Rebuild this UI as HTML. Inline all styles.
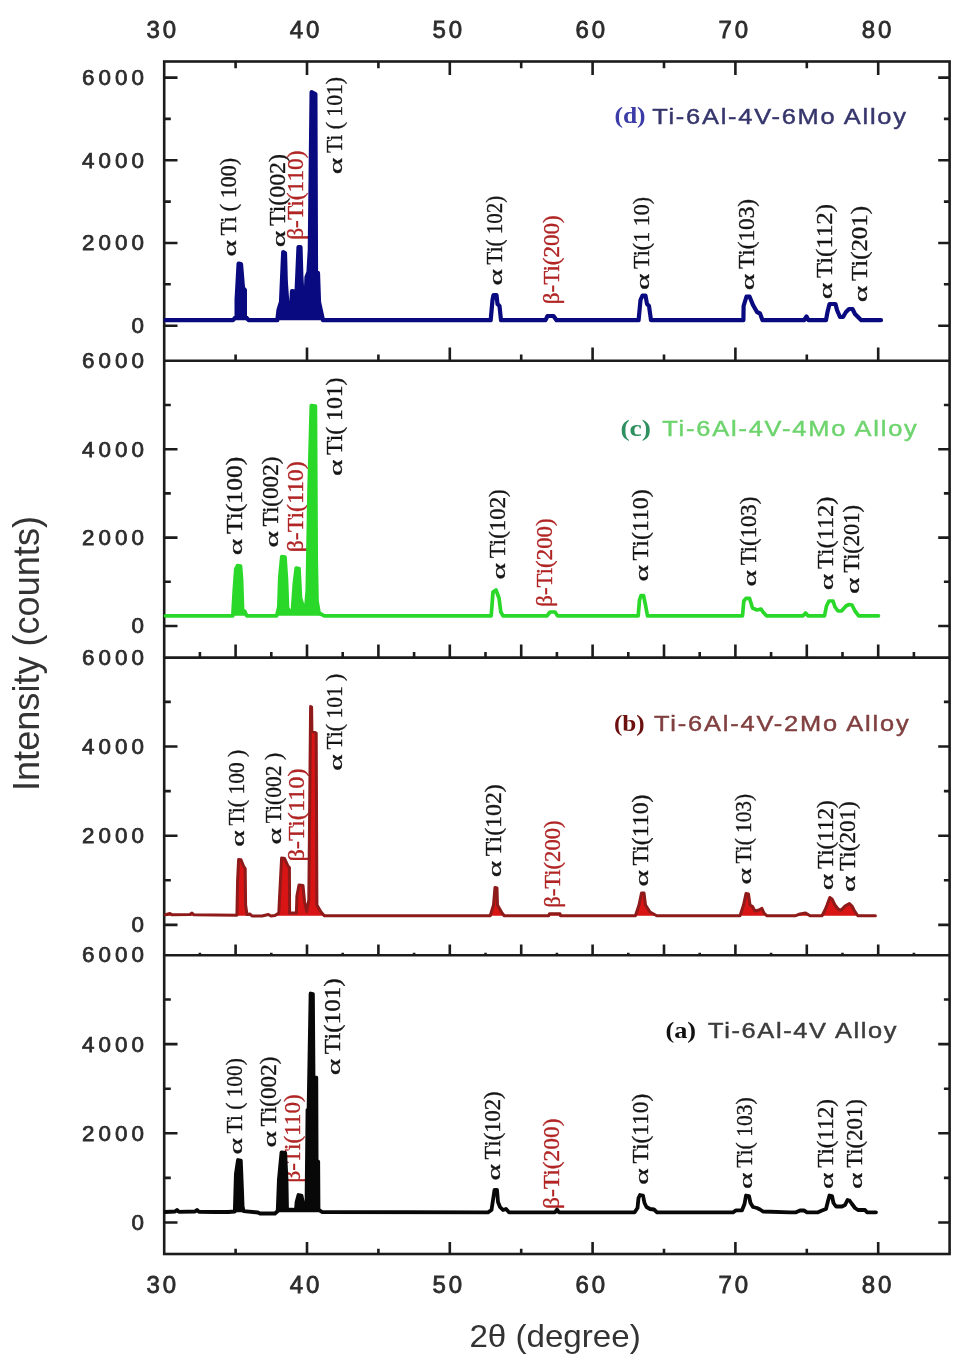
<!DOCTYPE html><html><head><meta charset="utf-8"><style>html,body{margin:0;padding:0;background:#fff;}svg{display:block;filter:blur(0.45px)}</style></head><body>
<svg width="967" height="1369" viewBox="0 0 967 1369">
<rect width="967" height="1369" fill="#fff"/>
<rect x="164.2" y="61.5" width="785.4" height="1192.5" fill="none" stroke="#1c1c1c" stroke-width="2.6"/>
<line x1="164.2" y1="360.7" x2="949.6" y2="360.7" stroke="#1c1c1c" stroke-width="2.6"/>
<line x1="164.2" y1="657.6" x2="949.6" y2="657.6" stroke="#1c1c1c" stroke-width="2.6"/>
<line x1="164.2" y1="955.3" x2="949.6" y2="955.3" stroke="#1c1c1c" stroke-width="2.6"/>
<path d="M235.6 61.5V68.2M307.0 61.5V75.0M378.4 61.5V68.2M449.8 61.5V75.0M521.2 61.5V68.2M592.6 61.5V75.0M664.0 61.5V68.2M735.4 61.5V75.0M806.8 61.5V68.2M878.2 61.5V75.0M235.6 360.7V354.5M307.0 360.7V347.5M378.4 360.7V354.5M449.8 360.7V347.5M521.2 360.7V354.5M592.6 360.7V347.5M664.0 360.7V354.5M735.4 360.7V347.5M806.8 360.7V354.5M878.2 360.7V347.5M199.9 657.6V652.0M235.6 657.6V644.6M271.3 657.6V652.0M307.0 657.6V644.6M342.7 657.6V652.0M378.4 657.6V644.6M414.1 657.6V652.0M449.8 657.6V644.6M485.5 657.6V652.0M521.2 657.6V644.6M556.9 657.6V652.0M592.6 657.6V644.6M628.3 657.6V652.0M664.0 657.6V644.6M699.7 657.6V652.0M735.4 657.6V644.6M771.1 657.6V652.0M806.8 657.6V644.6M842.5 657.6V652.0M878.2 657.6V644.6M913.9 657.6V652.0M199.9 955.3V952.8M235.6 955.3V944.6M271.3 955.3V952.8M307.0 955.3V944.6M342.7 955.3V952.8M378.4 955.3V944.6M414.1 955.3V952.8M449.8 955.3V944.6M485.5 955.3V952.8M521.2 955.3V944.6M556.9 955.3V952.8M592.6 955.3V944.6M628.3 955.3V952.8M664.0 955.3V944.6M699.7 955.3V952.8M735.4 955.3V944.6M771.1 955.3V952.8M806.8 955.3V944.6M842.5 955.3V952.8M878.2 955.3V944.6M913.9 955.3V952.8M235.6 1254.0V1248.7M307.0 1254.0V1242.0M378.4 1254.0V1248.7M449.8 1254.0V1242.0M521.2 1254.0V1248.7M592.6 1254.0V1242.0M664.0 1254.0V1248.7M735.4 1254.0V1242.0M806.8 1254.0V1248.7M878.2 1254.0V1242.0M164.2 325.7H177.5M949.6 325.7H938.2M164.2 284.3H170.8M949.6 284.3H943.9M164.2 243.0H177.5M949.6 243.0H938.2M164.2 201.6H170.8M949.6 201.6H943.9M164.2 160.3H177.5M949.6 160.3H938.2M164.2 118.9H170.8M949.6 118.9H943.9M164.2 77.6H177.5M949.6 77.6H938.2M164.2 626.0H177.5M949.6 626.0H938.2M164.2 581.8H170.8M949.6 581.8H943.9M164.2 537.6H177.5M949.6 537.6H938.2M164.2 493.4H170.8M949.6 493.4H943.9M164.2 449.2H177.5M949.6 449.2H938.2M164.2 405.0H170.8M949.6 405.0H943.9M164.2 924.9H177.5M949.6 924.9H938.2M164.2 880.3H170.8M949.6 880.3H943.9M164.2 835.7H177.5M949.6 835.7H938.2M164.2 791.1H170.8M949.6 791.1H943.9M164.2 746.5H177.5M949.6 746.5H938.2M164.2 701.9H170.8M949.6 701.9H943.9M164.2 1222.5H177.5M949.6 1222.5H938.2M164.2 1177.9H170.8M949.6 1177.9H943.9M164.2 1133.3H177.5M949.6 1133.3H938.2M164.2 1088.7H170.8M949.6 1088.7H943.9M164.2 1044.1H177.5M949.6 1044.1H938.2M164.2 999.5H170.8M949.6 999.5H943.9" stroke="#1c1c1c" stroke-width="2.6" fill="none"/>
<text x="146.41" y="38.00" font-family="Liberation Sans, sans-serif" font-size="24.00" letter-spacing="2.90" fill="#2c2c2c" stroke="#2c2c2c" stroke-width="0.80">30</text>
<text x="146.41" y="1293.20" font-family="Liberation Sans, sans-serif" font-size="24.00" letter-spacing="2.90" fill="#2c2c2c" stroke="#2c2c2c" stroke-width="0.80">30</text>
<text x="289.68" y="38.00" font-family="Liberation Sans, sans-serif" font-size="24.00" letter-spacing="2.90" fill="#2c2c2c" stroke="#2c2c2c" stroke-width="0.80">40</text>
<text x="289.68" y="1293.20" font-family="Liberation Sans, sans-serif" font-size="24.00" letter-spacing="2.90" fill="#2c2c2c" stroke="#2c2c2c" stroke-width="0.80">40</text>
<text x="432.55" y="38.00" font-family="Liberation Sans, sans-serif" font-size="24.00" letter-spacing="2.90" fill="#2c2c2c" stroke="#2c2c2c" stroke-width="0.80">50</text>
<text x="432.55" y="1293.20" font-family="Liberation Sans, sans-serif" font-size="24.00" letter-spacing="2.90" fill="#2c2c2c" stroke="#2c2c2c" stroke-width="0.80">50</text>
<text x="575.50" y="38.00" font-family="Liberation Sans, sans-serif" font-size="24.00" letter-spacing="2.90" fill="#2c2c2c" stroke="#2c2c2c" stroke-width="0.80">60</text>
<text x="575.50" y="1293.20" font-family="Liberation Sans, sans-serif" font-size="24.00" letter-spacing="2.90" fill="#2c2c2c" stroke="#2c2c2c" stroke-width="0.80">60</text>
<text x="718.57" y="38.00" font-family="Liberation Sans, sans-serif" font-size="24.00" letter-spacing="2.90" fill="#2c2c2c" stroke="#2c2c2c" stroke-width="0.80">70</text>
<text x="718.57" y="1293.20" font-family="Liberation Sans, sans-serif" font-size="24.00" letter-spacing="2.90" fill="#2c2c2c" stroke="#2c2c2c" stroke-width="0.80">70</text>
<text x="861.75" y="38.00" font-family="Liberation Sans, sans-serif" font-size="24.00" letter-spacing="2.90" fill="#2c2c2c" stroke="#2c2c2c" stroke-width="0.80">80</text>
<text x="861.75" y="1293.20" font-family="Liberation Sans, sans-serif" font-size="24.00" letter-spacing="2.90" fill="#2c2c2c" stroke="#2c2c2c" stroke-width="0.80">80</text>
<text x="131.42" y="333.14" font-family="Liberation Sans, sans-serif" font-size="22.40" letter-spacing="4.00" fill="#2c2c2c" stroke="#2c2c2c" stroke-width="0.75">0</text>
<text x="82.04" y="250.44" font-family="Liberation Sans, sans-serif" font-size="22.40" letter-spacing="4.00" fill="#2c2c2c" stroke="#2c2c2c" stroke-width="0.75">2000</text>
<text x="82.04" y="167.74" font-family="Liberation Sans, sans-serif" font-size="22.40" letter-spacing="4.00" fill="#2c2c2c" stroke="#2c2c2c" stroke-width="0.75">4000</text>
<text x="82.04" y="85.04" font-family="Liberation Sans, sans-serif" font-size="22.40" letter-spacing="4.00" fill="#2c2c2c" stroke="#2c2c2c" stroke-width="0.75">6000</text>
<text x="131.42" y="633.44" font-family="Liberation Sans, sans-serif" font-size="22.40" letter-spacing="4.00" fill="#2c2c2c" stroke="#2c2c2c" stroke-width="0.75">0</text>
<text x="82.04" y="545.04" font-family="Liberation Sans, sans-serif" font-size="22.40" letter-spacing="4.00" fill="#2c2c2c" stroke="#2c2c2c" stroke-width="0.75">2000</text>
<text x="82.04" y="456.64" font-family="Liberation Sans, sans-serif" font-size="22.40" letter-spacing="4.00" fill="#2c2c2c" stroke="#2c2c2c" stroke-width="0.75">4000</text>
<text x="82.04" y="368.24" font-family="Liberation Sans, sans-serif" font-size="22.40" letter-spacing="4.00" fill="#2c2c2c" stroke="#2c2c2c" stroke-width="0.75">6000</text>
<text x="131.42" y="932.34" font-family="Liberation Sans, sans-serif" font-size="22.40" letter-spacing="4.00" fill="#2c2c2c" stroke="#2c2c2c" stroke-width="0.75">0</text>
<text x="82.04" y="843.14" font-family="Liberation Sans, sans-serif" font-size="22.40" letter-spacing="4.00" fill="#2c2c2c" stroke="#2c2c2c" stroke-width="0.75">2000</text>
<text x="82.04" y="753.94" font-family="Liberation Sans, sans-serif" font-size="22.40" letter-spacing="4.00" fill="#2c2c2c" stroke="#2c2c2c" stroke-width="0.75">4000</text>
<text x="82.04" y="664.74" font-family="Liberation Sans, sans-serif" font-size="22.40" letter-spacing="4.00" fill="#2c2c2c" stroke="#2c2c2c" stroke-width="0.75">6000</text>
<text x="131.42" y="1229.94" font-family="Liberation Sans, sans-serif" font-size="22.40" letter-spacing="4.00" fill="#2c2c2c" stroke="#2c2c2c" stroke-width="0.75">0</text>
<text x="82.04" y="1140.74" font-family="Liberation Sans, sans-serif" font-size="22.40" letter-spacing="4.00" fill="#2c2c2c" stroke="#2c2c2c" stroke-width="0.75">2000</text>
<text x="82.04" y="1051.54" font-family="Liberation Sans, sans-serif" font-size="22.40" letter-spacing="4.00" fill="#2c2c2c" stroke="#2c2c2c" stroke-width="0.75">4000</text>
<text x="82.04" y="962.34" font-family="Liberation Sans, sans-serif" font-size="22.40" letter-spacing="4.00" fill="#2c2c2c" stroke="#2c2c2c" stroke-width="0.75">6000</text>
<text x="0" y="0" transform="translate(236.0,256.6) rotate(-90) scale(1,0.905)" font-family="Liberation Serif, serif" font-size="20.5" fill="#151515" stroke="#151515" stroke-width="0.3" textLength="16.5" lengthAdjust="spacingAndGlyphs">α</text><text x="0" y="0" transform="translate(236.0,235.5) rotate(-90) scale(1,1.160)" font-family="Liberation Serif, serif" font-size="20.5" fill="#151515" stroke="#151515" stroke-width="0.3" textLength="77.7" lengthAdjust="spacingAndGlyphs">Ti ( 100)</text>
<text x="0" y="0" transform="translate(284.8,247.2) rotate(-90) scale(1,0.905)" font-family="Liberation Serif, serif" font-size="20.5" fill="#151515" stroke="#151515" stroke-width="0.3" textLength="16.5" lengthAdjust="spacingAndGlyphs">α</text><text x="0" y="0" transform="translate(284.8,226.1) rotate(-90) scale(1,1.160)" font-family="Liberation Serif, serif" font-size="20.5" fill="#151515" stroke="#151515" stroke-width="0.3" textLength="72.1" lengthAdjust="spacingAndGlyphs">Ti(002)</text>
<text x="0" y="0" transform="translate(302.6,239.8) rotate(-90) scale(1,1.160)" font-family="Liberation Serif, serif" font-size="20.5" fill="#b02424" stroke="#b02424" stroke-width="0.3" textLength="89.4" lengthAdjust="spacingAndGlyphs">β-Ti(110)</text>
<text x="0" y="0" transform="translate(341.8,174.2) rotate(-90) scale(1,0.905)" font-family="Liberation Serif, serif" font-size="20.5" fill="#151515" stroke="#151515" stroke-width="0.3" textLength="16.5" lengthAdjust="spacingAndGlyphs">α</text><text x="0" y="0" transform="translate(341.8,153.1) rotate(-90) scale(1,1.160)" font-family="Liberation Serif, serif" font-size="20.5" fill="#151515" stroke="#151515" stroke-width="0.3" textLength="76.1" lengthAdjust="spacingAndGlyphs">Ti ( 101)</text>
<text x="0" y="0" transform="translate(502.3,285.5) rotate(-90) scale(1,0.905)" font-family="Liberation Serif, serif" font-size="20.5" fill="#151515" stroke="#151515" stroke-width="0.3" textLength="16.5" lengthAdjust="spacingAndGlyphs">α</text><text x="0" y="0" transform="translate(502.3,264.4) rotate(-90) scale(1,1.160)" font-family="Liberation Serif, serif" font-size="20.5" fill="#151515" stroke="#151515" stroke-width="0.3" textLength="68.6" lengthAdjust="spacingAndGlyphs">Ti( 102)</text>
<text x="0" y="0" transform="translate(558.7,304.2) rotate(-90) scale(1,1.160)" font-family="Liberation Serif, serif" font-size="20.5" fill="#b02424" stroke="#b02424" stroke-width="0.3" textLength="89.0" lengthAdjust="spacingAndGlyphs">β-Ti(200)</text>
<text x="0" y="0" transform="translate(648.6,290.0) rotate(-90) scale(1,0.905)" font-family="Liberation Serif, serif" font-size="20.5" fill="#151515" stroke="#151515" stroke-width="0.3" textLength="16.5" lengthAdjust="spacingAndGlyphs">α</text><text x="0" y="0" transform="translate(648.6,268.9) rotate(-90) scale(1,1.160)" font-family="Liberation Serif, serif" font-size="20.5" fill="#151515" stroke="#151515" stroke-width="0.3" textLength="71.9" lengthAdjust="spacingAndGlyphs">Ti(1 10)</text>
<text x="0" y="0" transform="translate(753.8,290.2) rotate(-90) scale(1,0.905)" font-family="Liberation Serif, serif" font-size="20.5" fill="#151515" stroke="#151515" stroke-width="0.3" textLength="16.5" lengthAdjust="spacingAndGlyphs">α</text><text x="0" y="0" transform="translate(753.8,269.1) rotate(-90) scale(1,1.160)" font-family="Liberation Serif, serif" font-size="20.5" fill="#151515" stroke="#151515" stroke-width="0.3" textLength="70.1" lengthAdjust="spacingAndGlyphs">Ti(103)</text>
<text x="0" y="0" transform="translate(831.8,299.2) rotate(-90) scale(1,0.905)" font-family="Liberation Serif, serif" font-size="20.5" fill="#151515" stroke="#151515" stroke-width="0.3" textLength="16.5" lengthAdjust="spacingAndGlyphs">α</text><text x="0" y="0" transform="translate(831.8,278.1) rotate(-90) scale(1,1.160)" font-family="Liberation Serif, serif" font-size="20.5" fill="#151515" stroke="#151515" stroke-width="0.3" textLength="74.1" lengthAdjust="spacingAndGlyphs">Ti(112)</text>
<text x="0" y="0" transform="translate(866.8,302.2) rotate(-90) scale(1,0.905)" font-family="Liberation Serif, serif" font-size="20.5" fill="#151515" stroke="#151515" stroke-width="0.3" textLength="16.5" lengthAdjust="spacingAndGlyphs">α</text><text x="0" y="0" transform="translate(866.8,281.1) rotate(-90) scale(1,1.160)" font-family="Liberation Serif, serif" font-size="20.5" fill="#151515" stroke="#151515" stroke-width="0.3" textLength="75.1" lengthAdjust="spacingAndGlyphs">Ti(201)</text>
<text x="0" y="0" transform="translate(241.5,555.2) rotate(-90) scale(1,0.905)" font-family="Liberation Serif, serif" font-size="20.5" fill="#151515" stroke="#151515" stroke-width="0.3" textLength="16.5" lengthAdjust="spacingAndGlyphs">α</text><text x="0" y="0" transform="translate(241.5,534.1) rotate(-90) scale(1,1.160)" font-family="Liberation Serif, serif" font-size="20.5" fill="#151515" stroke="#151515" stroke-width="0.3" textLength="77.5" lengthAdjust="spacingAndGlyphs">Ti(100)</text>
<text x="0" y="0" transform="translate(278.0,547.5) rotate(-90) scale(1,0.905)" font-family="Liberation Serif, serif" font-size="20.5" fill="#151515" stroke="#151515" stroke-width="0.3" textLength="16.5" lengthAdjust="spacingAndGlyphs">α</text><text x="0" y="0" transform="translate(278.0,526.4) rotate(-90) scale(1,1.160)" font-family="Liberation Serif, serif" font-size="20.5" fill="#151515" stroke="#151515" stroke-width="0.3" textLength="69.8" lengthAdjust="spacingAndGlyphs">Ti(002)</text>
<text x="0" y="0" transform="translate(302.8,552.3) rotate(-90) scale(1,1.160)" font-family="Liberation Serif, serif" font-size="20.5" fill="#b02424" stroke="#b02424" stroke-width="0.3" textLength="91.0" lengthAdjust="spacingAndGlyphs">β-Ti(110)</text>
<text x="0" y="0" transform="translate(342.4,476.1) rotate(-90) scale(1,0.905)" font-family="Liberation Serif, serif" font-size="20.5" fill="#151515" stroke="#151515" stroke-width="0.3" textLength="16.5" lengthAdjust="spacingAndGlyphs">α</text><text x="0" y="0" transform="translate(342.4,455.0) rotate(-90) scale(1,1.160)" font-family="Liberation Serif, serif" font-size="20.5" fill="#151515" stroke="#151515" stroke-width="0.3" textLength="77.5" lengthAdjust="spacingAndGlyphs">Ti( 101)</text>
<text x="0" y="0" transform="translate(505.4,579.4) rotate(-90) scale(1,0.905)" font-family="Liberation Serif, serif" font-size="20.5" fill="#151515" stroke="#151515" stroke-width="0.3" textLength="16.5" lengthAdjust="spacingAndGlyphs">α</text><text x="0" y="0" transform="translate(505.4,558.3) rotate(-90) scale(1,1.160)" font-family="Liberation Serif, serif" font-size="20.5" fill="#151515" stroke="#151515" stroke-width="0.3" textLength="69.0" lengthAdjust="spacingAndGlyphs">Ti(102)</text>
<text x="0" y="0" transform="translate(551.9,606.7) rotate(-90) scale(1,1.160)" font-family="Liberation Serif, serif" font-size="20.5" fill="#b02424" stroke="#b02424" stroke-width="0.3" textLength="88.4" lengthAdjust="spacingAndGlyphs">β-Ti(200)</text>
<text x="0" y="0" transform="translate(648.1,581.5) rotate(-90) scale(1,0.905)" font-family="Liberation Serif, serif" font-size="20.5" fill="#151515" stroke="#151515" stroke-width="0.3" textLength="16.5" lengthAdjust="spacingAndGlyphs">α</text><text x="0" y="0" transform="translate(648.1,560.4) rotate(-90) scale(1,1.160)" font-family="Liberation Serif, serif" font-size="20.5" fill="#151515" stroke="#151515" stroke-width="0.3" textLength="71.1" lengthAdjust="spacingAndGlyphs">Ti(110)</text>
<text x="0" y="0" transform="translate(756.3,586.4) rotate(-90) scale(1,0.905)" font-family="Liberation Serif, serif" font-size="20.5" fill="#151515" stroke="#151515" stroke-width="0.3" textLength="16.5" lengthAdjust="spacingAndGlyphs">α</text><text x="0" y="0" transform="translate(756.3,565.3) rotate(-90) scale(1,1.160)" font-family="Liberation Serif, serif" font-size="20.5" fill="#151515" stroke="#151515" stroke-width="0.3" textLength="68.6" lengthAdjust="spacingAndGlyphs">Ti(103)</text>
<text x="0" y="0" transform="translate(832.7,590.2) rotate(-90) scale(1,0.905)" font-family="Liberation Serif, serif" font-size="20.5" fill="#151515" stroke="#151515" stroke-width="0.3" textLength="16.5" lengthAdjust="spacingAndGlyphs">α</text><text x="0" y="0" transform="translate(832.7,569.1) rotate(-90) scale(1,1.160)" font-family="Liberation Serif, serif" font-size="20.5" fill="#151515" stroke="#151515" stroke-width="0.3" textLength="72.4" lengthAdjust="spacingAndGlyphs">Ti(112)</text>
<text x="0" y="0" transform="translate(858.7,593.9) rotate(-90) scale(1,0.905)" font-family="Liberation Serif, serif" font-size="20.5" fill="#151515" stroke="#151515" stroke-width="0.3" textLength="16.5" lengthAdjust="spacingAndGlyphs">α</text><text x="0" y="0" transform="translate(858.7,572.8) rotate(-90) scale(1,1.160)" font-family="Liberation Serif, serif" font-size="20.5" fill="#151515" stroke="#151515" stroke-width="0.3" textLength="67.8" lengthAdjust="spacingAndGlyphs">Ti(201)</text>
<text x="0" y="0" transform="translate(243.9,846.7) rotate(-90) scale(1,0.905)" font-family="Liberation Serif, serif" font-size="20.5" fill="#151515" stroke="#151515" stroke-width="0.3" textLength="16.5" lengthAdjust="spacingAndGlyphs">α</text><text x="0" y="0" transform="translate(243.9,825.6) rotate(-90) scale(1,1.160)" font-family="Liberation Serif, serif" font-size="20.5" fill="#151515" stroke="#151515" stroke-width="0.3" textLength="75.9" lengthAdjust="spacingAndGlyphs">Ti( 100 )</text>
<text x="0" y="0" transform="translate(281.1,844.4) rotate(-90) scale(1,0.905)" font-family="Liberation Serif, serif" font-size="20.5" fill="#151515" stroke="#151515" stroke-width="0.3" textLength="16.5" lengthAdjust="spacingAndGlyphs">α</text><text x="0" y="0" transform="translate(281.1,823.3) rotate(-90) scale(1,1.160)" font-family="Liberation Serif, serif" font-size="20.5" fill="#151515" stroke="#151515" stroke-width="0.3" textLength="70.5" lengthAdjust="spacingAndGlyphs">Ti(002 )</text>
<text x="0" y="0" transform="translate(303.6,861.6) rotate(-90) scale(1,1.160)" font-family="Liberation Serif, serif" font-size="20.5" fill="#b02424" stroke="#b02424" stroke-width="0.3" textLength="93.3" lengthAdjust="spacingAndGlyphs">β-Ti(110)</text>
<text x="0" y="0" transform="translate(342.4,770.7) rotate(-90) scale(1,0.905)" font-family="Liberation Serif, serif" font-size="20.5" fill="#151515" stroke="#151515" stroke-width="0.3" textLength="16.5" lengthAdjust="spacingAndGlyphs">α</text><text x="0" y="0" transform="translate(342.4,749.6) rotate(-90) scale(1,1.160)" font-family="Liberation Serif, serif" font-size="20.5" fill="#151515" stroke="#151515" stroke-width="0.3" textLength="75.9" lengthAdjust="spacingAndGlyphs">Ti( 101 )</text>
<text x="0" y="0" transform="translate(501.3,877.3) rotate(-90) scale(1,0.905)" font-family="Liberation Serif, serif" font-size="20.5" fill="#151515" stroke="#151515" stroke-width="0.3" textLength="16.5" lengthAdjust="spacingAndGlyphs">α</text><text x="0" y="0" transform="translate(501.3,856.2) rotate(-90) scale(1,1.160)" font-family="Liberation Serif, serif" font-size="20.5" fill="#151515" stroke="#151515" stroke-width="0.3" textLength="72.0" lengthAdjust="spacingAndGlyphs">Ti(102)</text>
<text x="0" y="0" transform="translate(560.2,907.8) rotate(-90) scale(1,1.160)" font-family="Liberation Serif, serif" font-size="20.5" fill="#b02424" stroke="#b02424" stroke-width="0.3" textLength="87.4" lengthAdjust="spacingAndGlyphs">β-Ti(200)</text>
<text x="0" y="0" transform="translate(648.1,886.6) rotate(-90) scale(1,0.905)" font-family="Liberation Serif, serif" font-size="20.5" fill="#151515" stroke="#151515" stroke-width="0.3" textLength="16.5" lengthAdjust="spacingAndGlyphs">α</text><text x="0" y="0" transform="translate(648.1,865.5) rotate(-90) scale(1,1.160)" font-family="Liberation Serif, serif" font-size="20.5" fill="#151515" stroke="#151515" stroke-width="0.3" textLength="71.0" lengthAdjust="spacingAndGlyphs">Ti(110)</text>
<text x="0" y="0" transform="translate(750.8,884.6) rotate(-90) scale(1,0.905)" font-family="Liberation Serif, serif" font-size="20.5" fill="#151515" stroke="#151515" stroke-width="0.3" textLength="16.5" lengthAdjust="spacingAndGlyphs">α</text><text x="0" y="0" transform="translate(750.8,863.5) rotate(-90) scale(1,1.160)" font-family="Liberation Serif, serif" font-size="20.5" fill="#151515" stroke="#151515" stroke-width="0.3" textLength="69.6" lengthAdjust="spacingAndGlyphs">Ti( 103)</text>
<text x="0" y="0" transform="translate(832.7,890.2) rotate(-90) scale(1,0.905)" font-family="Liberation Serif, serif" font-size="20.5" fill="#151515" stroke="#151515" stroke-width="0.3" textLength="16.5" lengthAdjust="spacingAndGlyphs">α</text><text x="0" y="0" transform="translate(832.7,869.1) rotate(-90) scale(1,1.160)" font-family="Liberation Serif, serif" font-size="20.5" fill="#151515" stroke="#151515" stroke-width="0.3" textLength="68.7" lengthAdjust="spacingAndGlyphs">Ti(112)</text>
<text x="0" y="0" transform="translate(855.0,892.0) rotate(-90) scale(1,0.905)" font-family="Liberation Serif, serif" font-size="20.5" fill="#151515" stroke="#151515" stroke-width="0.3" textLength="16.5" lengthAdjust="spacingAndGlyphs">α</text><text x="0" y="0" transform="translate(855.0,870.9) rotate(-90) scale(1,1.160)" font-family="Liberation Serif, serif" font-size="20.5" fill="#151515" stroke="#151515" stroke-width="0.3" textLength="69.6" lengthAdjust="spacingAndGlyphs">Ti(201)</text>
<text x="0" y="0" transform="translate(241.5,1154.5) rotate(-90) scale(1,0.905)" font-family="Liberation Serif, serif" font-size="20.5" fill="#151515" stroke="#151515" stroke-width="0.3" textLength="16.5" lengthAdjust="spacingAndGlyphs">α</text><text x="0" y="0" transform="translate(241.5,1133.4) rotate(-90) scale(1,1.160)" font-family="Liberation Serif, serif" font-size="20.5" fill="#151515" stroke="#151515" stroke-width="0.3" textLength="75.2" lengthAdjust="spacingAndGlyphs">Ti ( 100)</text>
<text x="0" y="0" transform="translate(276.4,1147.5) rotate(-90) scale(1,0.905)" font-family="Liberation Serif, serif" font-size="20.5" fill="#151515" stroke="#151515" stroke-width="0.3" textLength="16.5" lengthAdjust="spacingAndGlyphs">α</text><text x="0" y="0" transform="translate(276.4,1126.4) rotate(-90) scale(1,1.160)" font-family="Liberation Serif, serif" font-size="20.5" fill="#151515" stroke="#151515" stroke-width="0.3" textLength="69.8" lengthAdjust="spacingAndGlyphs">Ti(002)</text>
<text x="0" y="0" transform="translate(300.0,1182.6) rotate(-90) scale(1,1.160)" font-family="Liberation Serif, serif" font-size="20.5" fill="#b02424" stroke="#b02424" stroke-width="0.3" textLength="88.2" lengthAdjust="spacingAndGlyphs">β-Ti(110)</text>
<text x="0" y="0" transform="translate(340.0,1075.3) rotate(-90) scale(1,0.905)" font-family="Liberation Serif, serif" font-size="20.5" fill="#151515" stroke="#151515" stroke-width="0.3" textLength="16.5" lengthAdjust="spacingAndGlyphs">α</text><text x="0" y="0" transform="translate(340.0,1054.2) rotate(-90) scale(1,1.160)" font-family="Liberation Serif, serif" font-size="20.5" fill="#151515" stroke="#151515" stroke-width="0.3" textLength="75.9" lengthAdjust="spacingAndGlyphs">Ti(101)</text>
<text x="0" y="0" transform="translate(500.2,1180.6) rotate(-90) scale(1,0.905)" font-family="Liberation Serif, serif" font-size="20.5" fill="#151515" stroke="#151515" stroke-width="0.3" textLength="16.5" lengthAdjust="spacingAndGlyphs">α</text><text x="0" y="0" transform="translate(500.2,1159.5) rotate(-90) scale(1,1.160)" font-family="Liberation Serif, serif" font-size="20.5" fill="#151515" stroke="#151515" stroke-width="0.3" textLength="67.9" lengthAdjust="spacingAndGlyphs">Ti(102)</text>
<text x="0" y="0" transform="translate(559.2,1209.0) rotate(-90) scale(1,1.160)" font-family="Liberation Serif, serif" font-size="20.5" fill="#b02424" stroke="#b02424" stroke-width="0.3" textLength="90.5" lengthAdjust="spacingAndGlyphs">β-Ti(200)</text>
<text x="0" y="0" transform="translate(648.1,1184.7) rotate(-90) scale(1,0.905)" font-family="Liberation Serif, serif" font-size="20.5" fill="#151515" stroke="#151515" stroke-width="0.3" textLength="16.5" lengthAdjust="spacingAndGlyphs">α</text><text x="0" y="0" transform="translate(648.1,1163.6) rotate(-90) scale(1,1.160)" font-family="Liberation Serif, serif" font-size="20.5" fill="#151515" stroke="#151515" stroke-width="0.3" textLength="70.0" lengthAdjust="spacingAndGlyphs">Ti(110)</text>
<text x="0" y="0" transform="translate(751.7,1188.9) rotate(-90) scale(1,0.905)" font-family="Liberation Serif, serif" font-size="20.5" fill="#151515" stroke="#151515" stroke-width="0.3" textLength="16.5" lengthAdjust="spacingAndGlyphs">α</text><text x="0" y="0" transform="translate(751.7,1167.8) rotate(-90) scale(1,1.160)" font-family="Liberation Serif, serif" font-size="20.5" fill="#151515" stroke="#151515" stroke-width="0.3" textLength="70.5" lengthAdjust="spacingAndGlyphs">Ti( 103)</text>
<text x="0" y="0" transform="translate(832.7,1188.9) rotate(-90) scale(1,0.905)" font-family="Liberation Serif, serif" font-size="20.5" fill="#151515" stroke="#151515" stroke-width="0.3" textLength="16.5" lengthAdjust="spacingAndGlyphs">α</text><text x="0" y="0" transform="translate(832.7,1167.8) rotate(-90) scale(1,1.160)" font-family="Liberation Serif, serif" font-size="20.5" fill="#151515" stroke="#151515" stroke-width="0.3" textLength="68.7" lengthAdjust="spacingAndGlyphs">Ti(112)</text>
<text x="0" y="0" transform="translate(862.4,1188.9) rotate(-90) scale(1,0.905)" font-family="Liberation Serif, serif" font-size="20.5" fill="#151515" stroke="#151515" stroke-width="0.3" textLength="16.5" lengthAdjust="spacingAndGlyphs">α</text><text x="0" y="0" transform="translate(862.4,1167.8) rotate(-90) scale(1,1.160)" font-family="Liberation Serif, serif" font-size="20.5" fill="#151515" stroke="#151515" stroke-width="0.3" textLength="68.7" lengthAdjust="spacingAndGlyphs">Ti(201)</text>
<text x="614.4" y="123.0" font-family="Liberation Serif, serif" font-weight="bold" font-size="22.5" fill="#3c3ca8" textLength="31.2" lengthAdjust="spacingAndGlyphs">(d)</text>
<text x="0" y="0" transform="translate(652.14,124.00) scale(1.130,1)" font-family="Liberation Sans, sans-serif" font-weight="normal" font-size="22.5" fill="#36366c" stroke="#36366c" stroke-width="0.45" textLength="224.6" lengthAdjust="spacing">Ti-6Al-4V-6Mo Alloy</text>
<text x="620.4" y="435.5" font-family="Liberation Serif, serif" font-weight="bold" font-size="22.5" fill="#2f9060" textLength="30.7" lengthAdjust="spacingAndGlyphs">(c)</text>
<text x="0" y="0" transform="translate(662.14,436.40) scale(1.130,1)" font-family="Liberation Sans, sans-serif" font-weight="normal" font-size="22.5" fill="#6ed46e" stroke="#6ed46e" stroke-width="0.45" textLength="225.4" lengthAdjust="spacing">Ti-6Al-4V-4Mo Alloy</text>
<text x="613.9" y="730.5" font-family="Liberation Serif, serif" font-weight="bold" font-size="22.5" fill="#6b0f0f" textLength="30.8" lengthAdjust="spacingAndGlyphs">(b)</text>
<text x="0" y="0" transform="translate(653.94,731.40) scale(1.130,1)" font-family="Liberation Sans, sans-serif" font-weight="normal" font-size="22.5" fill="#804040" stroke="#804040" stroke-width="0.45" textLength="225.4" lengthAdjust="spacing">Ti-6Al-4V-2Mo Alloy</text>
<text x="665.4" y="1037.5" font-family="Liberation Serif, serif" font-weight="bold" font-size="22.5" fill="#111111" textLength="30.7" lengthAdjust="spacingAndGlyphs">(a)</text>
<text x="0" y="0" transform="translate(708.04,1038.00) scale(1.130,1)" font-family="Liberation Sans, sans-serif" font-weight="normal" font-size="22.5" fill="#3c3c3c" stroke="#3c3c3c" stroke-width="0.45" textLength="166.8" lengthAdjust="spacing">Ti-6Al-4V Alloy</text>
<text x="0" y="0" transform="translate(39.3,791) rotate(-90)" font-family="Liberation Sans, sans-serif" font-size="36" fill="#333" textLength="275" lengthAdjust="spacingAndGlyphs">Intensity (counts)</text>
<text x="469.4" y="1346.6" font-family="Liberation Sans, sans-serif" font-weight="normal" font-size="31.4" fill="#333" textLength="171.3" lengthAdjust="spacingAndGlyphs">2θ (degree)</text>
<polygon points="165.5,320.2 233.0,320.2 236.6,316.0 236.6,299.5 238.6,263.5 241.0,264.0 243.0,288.0 244.9,290.0 244.9,316.0 248.6,320.2 277.3,320.2 278.5,310.0 281.0,302.0 283.2,252.0 285.0,253.0 285.8,282.0 288.3,317.0 290.5,317.0 292.0,291.0 293.0,291.0 294.5,317.0 295.5,317.0 297.2,277.0 298.5,247.0 300.5,247.0 301.3,275.0 303.5,315.0 305.0,315.0 306.5,277.0 308.5,272.0 309.8,250.0 311.6,92.0 315.4,94.0 316.0,271.0 318.0,273.0 319.0,302.0 323.0,320.2 323.0,320.2 165.5,320.2" fill="#0a0a80" stroke="none"/><polyline points="165.5,320.2 233.0,320.2 236.6,316.0 236.6,299.5 238.6,263.5 241.0,264.0 243.0,288.0 244.9,290.0 244.9,316.0 248.6,320.2 277.3,320.2 278.5,310.0 281.0,302.0 283.2,252.0 285.0,253.0 285.8,282.0 288.3,317.0 290.5,317.0 292.0,291.0 293.0,291.0 294.5,317.0 295.5,317.0 297.2,277.0 298.5,247.0 300.5,247.0 301.3,275.0 303.5,315.0 305.0,315.0 306.5,277.0 308.5,272.0 309.8,250.0 311.6,92.0 315.4,94.0 316.0,271.0 318.0,273.0 319.0,302.0 323.0,320.2 490.7,320.2 492.5,300.0 493.5,295.0 496.5,295.0 497.5,304.0 499.5,306.0 501.0,320.2 545.5,320.2 547.5,316.0 553.5,316.0 556.5,320.2 638.6,320.2 640.5,300.0 642.5,295.5 645.5,295.5 647.0,304.0 649.0,306.0 651.0,320.2 743.4,320.2 743.6,306.0 746.5,296.5 749.5,296.5 753.0,305.0 757.0,312.0 760.0,313.5 762.5,320.2 804.0,320.2 806.5,316.5 808.5,320.2 826.0,320.2 827.5,312.0 829.5,304.0 835.5,304.0 837.0,310.0 840.0,317.0 843.0,317.0 846.0,312.0 849.0,309.0 852.5,309.0 855.0,314.0 858.0,317.0 861.3,320.2 881.0,320.2" fill="none" stroke="#0a0a80" stroke-width="4.20" stroke-linejoin="round" stroke-linecap="round" />
<polygon points="165.5,615.8 232.8,615.8 234.2,591.0 235.8,569.0 237.5,565.5 240.5,566.0 241.6,580.0 242.6,611.0 244.6,611.0 246.7,615.8 276.7,615.8 278.8,607.0 279.8,577.0 281.8,556.5 285.0,557.0 286.5,580.0 287.5,608.0 290.0,612.0 292.5,610.0 294.3,584.0 296.2,568.0 299.0,568.5 300.5,598.0 303.0,606.0 305.7,610.0 307.3,590.0 309.0,492.0 311.3,405.5 315.4,406.0 316.2,560.0 317.0,601.0 319.1,613.0 324.3,615.8 324.3,615.8 165.5,615.8" fill="#2ad82a" stroke="none"/><polyline points="165.5,615.8 232.8,615.8 234.2,591.0 235.8,569.0 237.5,565.5 240.5,566.0 241.6,580.0 242.6,611.0 244.6,611.0 246.7,615.8 276.7,615.8 278.8,607.0 279.8,577.0 281.8,556.5 285.0,557.0 286.5,580.0 287.5,608.0 290.0,612.0 292.5,610.0 294.3,584.0 296.2,568.0 299.0,568.5 300.5,598.0 303.0,606.0 305.7,610.0 307.3,590.0 309.0,492.0 311.3,405.5 315.4,406.0 316.2,560.0 317.0,601.0 319.1,613.0 324.3,615.8 491.2,615.8 493.0,592.0 496.0,590.0 499.0,598.0 500.8,612.0 503.0,615.8 547.0,615.8 550.0,612.0 555.0,612.0 557.5,615.8 638.2,615.8 639.5,600.0 641.0,595.5 643.5,595.5 645.5,605.0 647.5,615.8 742.5,615.8 743.8,601.0 746.0,598.3 749.5,598.3 752.5,608.0 757.0,610.0 761.0,609.0 763.0,612.0 766.5,615.8 803.0,615.8 805.6,613.0 808.0,615.8 824.5,615.8 826.5,606.0 829.0,601.0 833.0,601.0 835.0,607.0 838.0,611.0 841.5,611.0 846.0,606.0 849.0,604.5 852.0,605.0 855.0,611.0 858.7,615.8 878.5,615.8" fill="none" stroke="#2ad82a" stroke-width="3.70" stroke-linejoin="round" stroke-linecap="round" />
<polygon points="165.5,914.8 170.0,913.5 172.0,914.8 190.0,914.5 192.0,913.0 194.0,914.8 236.9,915.2 237.6,880.0 238.6,859.5 241.0,859.8 243.5,866.0 245.2,868.5 245.6,905.0 247.0,914.5 250.0,914.0 252.0,916.0 262.0,916.0 268.4,914.5 271.0,916.0 275.0,915.5 278.8,913.0 279.6,896.0 281.6,858.0 284.6,858.5 288.0,866.0 289.4,867.5 289.6,913.0 296.4,913.0 296.9,896.0 299.0,885.0 303.0,885.5 304.6,902.0 306.7,911.5 308.8,900.0 310.6,706.5 311.6,707.0 311.9,731.0 316.2,733.0 316.9,905.0 321.0,912.0 324.3,915.8 490.2,915.8 493.5,905.0 495.0,887.5 497.0,888.0 497.5,905.0 502.0,913.0 504.2,915.8 548.7,915.8 549.5,913.7 560.0,913.7 560.5,915.8 635.4,915.8 639.0,905.0 641.5,893.0 644.0,893.0 645.5,905.0 650.0,912.0 656.8,915.8 740.0,915.8 743.5,905.0 746.0,893.5 748.5,894.0 750.0,905.0 752.6,906.6 755.0,911.0 759.0,910.0 761.9,908.4 764.0,913.0 767.0,915.8 795.0,915.8 800.0,914.0 805.6,913.0 810.0,915.8 822.0,915.8 825.0,910.0 827.0,905.0 829.8,897.5 832.0,899.0 835.0,905.0 838.0,909.0 841.0,910.3 845.0,906.0 849.4,903.5 852.0,906.0 854.0,910.0 857.8,915.8 875.4,915.8 875.4,915.8 165.5,915.8" fill="#d81414" stroke="none"/>
<polyline points="165.5,914.8 170.0,913.5 172.0,914.8 190.0,914.5 192.0,913.0 194.0,914.8 236.9,915.2 237.6,880.0 238.6,859.5 241.0,859.8 243.5,866.0 245.2,868.5 245.6,905.0 247.0,914.5 250.0,914.0 252.0,916.0 262.0,916.0 268.4,914.5 271.0,916.0 275.0,915.5 278.8,913.0 279.6,896.0 281.6,858.0 284.6,858.5 288.0,866.0 289.4,867.5 289.6,913.0 296.4,913.0 296.9,896.0 299.0,885.0 303.0,885.5 304.6,902.0 306.7,911.5 308.8,900.0 310.6,706.5 311.6,707.0 311.9,731.0 316.2,733.0 316.9,905.0 321.0,912.0 324.3,915.8 490.2,915.8 493.5,905.0 495.0,887.5 497.0,888.0 497.5,905.0 502.0,913.0 504.2,915.8 548.7,915.8 549.5,913.7 560.0,913.7 560.5,915.8 635.4,915.8 639.0,905.0 641.5,893.0 644.0,893.0 645.5,905.0 650.0,912.0 656.8,915.8 740.0,915.8 743.5,905.0 746.0,893.5 748.5,894.0 750.0,905.0 752.6,906.6 755.0,911.0 759.0,910.0 761.9,908.4 764.0,913.0 767.0,915.8 795.0,915.8 800.0,914.0 805.6,913.0 810.0,915.8 822.0,915.8 825.0,910.0 827.0,905.0 829.8,897.5 832.0,899.0 835.0,905.0 838.0,909.0 841.0,910.3 845.0,906.0 849.4,903.5 852.0,906.0 854.0,910.0 857.8,915.8 875.4,915.8" fill="none" stroke="#8e1a1a" stroke-width="3.00" stroke-linejoin="round" stroke-linecap="round" />
<polygon points="165.5,1212.0 175.0,1211.5 177.0,1210.0 179.0,1211.8 195.0,1211.5 197.0,1210.0 199.0,1211.8 215.0,1212.0 228.0,1212.0 234.8,1211.5 235.9,1174.0 238.0,1160.0 240.8,1160.5 242.0,1190.0 242.6,1206.5 243.6,1211.2 258.0,1212.5 260.0,1213.5 275.0,1213.5 277.7,1211.0 278.9,1180.0 281.5,1152.5 285.2,1153.0 286.5,1180.0 287.0,1209.5 296.0,1210.0 296.6,1202.0 298.5,1195.0 301.5,1195.5 303.0,1203.0 305.5,1205.0 306.5,1206.0 307.5,1110.0 308.6,1109.0 310.6,993.5 312.9,994.0 313.5,1077.0 316.3,1077.5 316.6,1161.0 318.2,1161.5 318.5,1209.5 322.0,1212.0 322.0,1212.3 165.5,1212.3" fill="#080808" stroke="none"/><polyline points="165.5,1212.0 175.0,1211.5 177.0,1210.0 179.0,1211.8 195.0,1211.5 197.0,1210.0 199.0,1211.8 215.0,1212.0 228.0,1212.0 234.8,1211.5 235.9,1174.0 238.0,1160.0 240.8,1160.5 242.0,1190.0 242.6,1206.5 243.6,1211.2 258.0,1212.5 260.0,1213.5 275.0,1213.5 277.7,1211.0 278.9,1180.0 281.5,1152.5 285.2,1153.0 286.5,1180.0 287.0,1209.5 296.0,1210.0 296.6,1202.0 298.5,1195.0 301.5,1195.5 303.0,1203.0 305.5,1205.0 306.5,1206.0 307.5,1110.0 308.6,1109.0 310.6,993.5 312.9,994.0 313.5,1077.0 316.3,1077.5 316.6,1161.0 318.2,1161.5 318.5,1209.5 322.0,1212.0 488.0,1212.3 491.5,1210.0 493.0,1200.0 494.5,1190.0 497.0,1190.0 498.0,1202.0 500.0,1207.0 503.0,1210.0 506.0,1209.0 509.0,1212.3 555.0,1212.3 557.0,1209.5 559.0,1212.3 634.5,1212.3 637.5,1208.0 638.5,1198.0 640.0,1195.0 643.0,1195.5 644.5,1203.0 646.5,1207.0 650.0,1209.0 654.0,1209.5 657.0,1212.3 733.0,1212.3 736.0,1210.3 742.0,1210.3 744.5,1204.0 746.0,1195.5 749.0,1196.0 750.5,1203.0 753.0,1207.0 757.0,1208.0 760.0,1209.5 763.0,1211.5 790.0,1212.3 796.0,1212.3 800.0,1210.5 804.0,1210.5 807.0,1212.3 818.0,1212.3 822.0,1210.5 826.0,1209.0 828.0,1201.0 829.5,1195.5 832.0,1196.0 833.5,1203.0 836.0,1206.5 842.0,1206.5 845.0,1205.0 847.5,1200.0 849.5,1200.5 852.0,1204.0 855.0,1208.0 858.0,1210.0 865.0,1210.0 867.0,1212.3 876.0,1212.3" fill="none" stroke="#080808" stroke-width="3.80" stroke-linejoin="round" stroke-linecap="round" />
</svg></body></html>
